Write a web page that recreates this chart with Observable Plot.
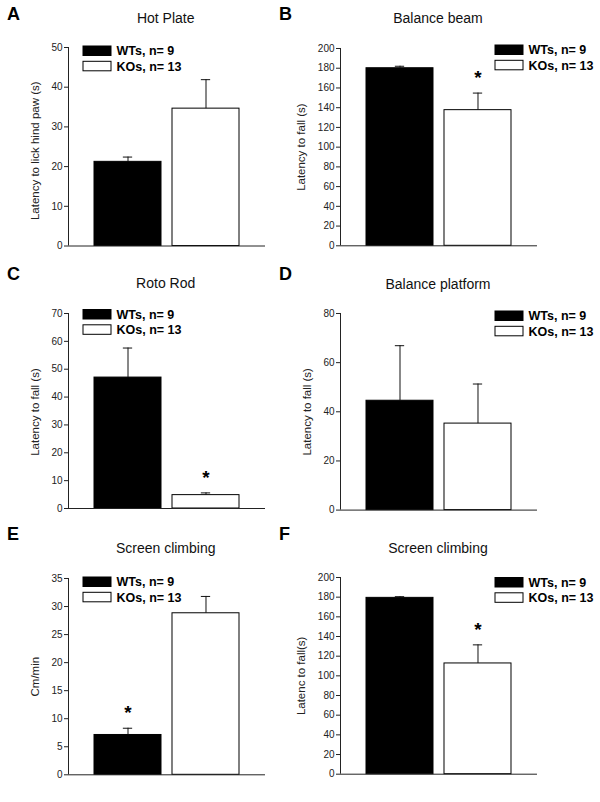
<!DOCTYPE html>
<html><head><meta charset="utf-8">
<script src="https://cdn.jsdelivr.net/npm/d3@7"></script>
<script src="https://cdn.jsdelivr.net/npm/@observablehq/plot@0.6"></script>
<style>
html,body{margin:0;padding:0;background:#fff;}
#root{position:relative;width:600px;height:802px;overflow:hidden;font-family:"Liberation Sans",Arial,Helvetica,sans-serif;}
#root svg{position:absolute;}
</style></head><body><div id="root"></div>
<script>
// ---- data ----
const groups = ["WTs", "KOs"];
const legendLabels = ["WTs, n= 9", "KOs, n= 13"];
const panelLetters = ["A", "B", "C", "D", "E", "F"];
const panelTitles = ["Hot Plate", "Balance beam", "Roto Rod", "Balance platform", "Screen climbing", "Screen climbing"];
const yLabels = ["Latency to lick hind paw (s)", "Latency to fall (s)", "Latency to fall (s)", "Latency to fall (s)", "Cm/min", "Latenc to fall(s)"];
const wtMeans = [21.2, 180.0, 47.0, 44.5, 7.1, 179.3];
const wtSems  = [1.2, 2.0, 10.6, 22.4, 1.2, 1.2];
const koMeans = [34.6, 137.5, 4.8, 35.2, 28.8, 112.6];
const koSems  = [7.3, 17.3, 0.8, 16.1, 3.0, 18.9];
const yMax  = [50, 200, 70, 80, 35, 200];
const yStep = [10, 20, 10, 20, 5, 20];
const significant = [null, "KOs", "KOs", null, "WTs", "KOs"];

// ---- layout (page pixels) ----
const layout = [
  {axisX: 67.7, top: 46.9, bottom: 245.4, letterX: 7, letterY: 19.5, titleY: 23.3, legX: 82.5, legTop: 45.5, labelShift: 4},
  {axisX: 340,  top: 47.7, bottom: 245.0, letterX: 279, letterY: 19.5, titleY: 23.3, legX: 494.5, legTop: 44.5, labelShift: 0},
  {axisX: 67.7, top: 313.3, bottom: 508.3, letterX: 7, letterY: 280, titleY: 288.3, legX: 82.5, legTop: 309, labelShift: 1},
  {axisX: 340,  top: 312.7, bottom: 509.3, letterX: 279, letterY: 280, titleY: 288.5, legX: 494.5, legTop: 310.5, labelShift: 0},
  {axisX: 67.7, top: 577.7, bottom: 774.0, letterX: 7, letterY: 540, titleY: 553, legX: 82.5, legTop: 576.5, labelShift: 0},
  {axisX: 340,  top: 577.3, bottom: 774.0, letterX: 279, letterY: 540, titleY: 553, legX: 494.5, legTop: 577, labelShift: 0}
];
const FONT = "'Liberation Sans', Arial, Helvetica, sans-serif";
const ML = 68, MT = 30, MB = 10, MR = 2, PW = 197;
const PI = 0.141, PO = 0.32;
const step = PW / (groups.length - PI + 2 * PO);
const bw = step * (1 - PI);
const capW = 10;

const root = document.getElementById("root");

panelTitles.forEach((title, i) => {
  const L = layout[i];
  const ph = L.bottom - L.top;
  const data = groups.map((g, j) => ({
    group: g,
    mean: j === 0 ? wtMeans[i] : koMeans[i],
    sem: j === 0 ? wtSems[i] : koSems[i]
  }));
  const sig = data.filter(d => d.group === significant[i]);
  const ticks = d3.range(0, yMax[i] + yStep[i] / 2, yStep[i]);
  const labelOffset = yMax[i] >= 100 ? 39 : 33.5;
  const chart = Plot.plot({
    width: ML + PW + MR,
    height: MT + ph + MB,
    marginLeft: ML, marginRight: MR, marginTop: MT, marginBottom: MB,
    style: {fontFamily: FONT, background: "transparent", overflow: "visible", color: "#222"},
    x: {domain: groups, paddingInner: PI, paddingOuter: PO, axis: null},
    y: {domain: [0, yMax[i]]},
    color: {domain: groups, range: ["#000000", "#ffffff"]},
    marks: [
      Plot.barY(data, {x: "group", y: "mean", fill: "group", stroke: "#000", strokeWidth: 1}),
      Plot.ruleX(data, {x: "group", y1: "mean", y2: d => d.mean + d.sem, stroke: "#111", strokeWidth: 1}),
      Plot.tickY(data, {x: "group", y: d => d.mean + d.sem, insetLeft: (bw - capW) / 2, insetRight: (bw - capW) / 2, stroke: "#111", strokeWidth: 1}),
      Plot.text(sig, {x: "group", y: d => d.mean + d.sem, text: () => "*", fontSize: 19, fontWeight: "bold", fill: "#000", lineAnchor: "middle", dy: -15}),
      Plot.ruleY([0], {stroke: "#222", strokeWidth: 1}),
      Plot.axisY({ticks, tickSize: 4, tickPadding: 2, fontSize: 10, label: null, stroke: "#222", fill: "#222"}),
      Plot.text([yLabels[i]], {frameAnchor: "left", rotate: -90, dx: -labelOffset, dy: L.labelShift, fontSize: 11.5, textAnchor: "middle", lineAnchor: "middle", fill: "#222"})
    ]
  });
  // vertical axis line drawn from the library's scales
  const xs = chart.scale("x"), ys = chart.scale("y");
  const x0 = xs.range[0];
  d3.select(chart).append("line")
    .attr("x1", x0 + 0.5).attr("x2", x0 + 0.5)
    .attr("y1", ys.range[0]).attr("y2", ys.range[1])
    .attr("stroke", "#222").attr("stroke-width", 1);
  chart.style.left = (L.axisX - ML) + "px";
  chart.style.top = (L.top - MT) + "px";
  root.appendChild(chart);
});

// ---- overlay: panel letters, titles, legends ----
const ov = d3.select(root).append("svg")
  .attr("width", 600).attr("height", 802)
  .style("left", "0px").style("top", "0px")
  .style("font-family", FONT);
layout.forEach((L, i) => {
  ov.append("text").attr("x", L.letterX).attr("y", L.letterY)
    .attr("font-size", 18).attr("font-weight", "bold").attr("fill", "#000")
    .text(panelLetters[i]);
  const cx = L.axisX + PW / 2 - 0.5;
  ov.append("text").attr("x", cx).attr("y", L.titleY)
    .attr("text-anchor", "middle").attr("font-size", 14).attr("fill", "#111")
    .text(panelTitles[i]);
  groups.forEach((g, j) => {
    const top = L.legTop + j * 15.3;
    ov.append("rect").attr("x", L.legX + 0.5).attr("y", top + 0.5)
      .attr("width", 28).attr("height", 9.5)
      .attr("fill", j === 0 ? "#000" : "#fff").attr("stroke", "#000").attr("stroke-width", 1);
    ov.append("text").attr("x", L.legX + 34).attr("y", top + 9.8)
      .attr("font-size", 12.5).attr("font-weight", "bold").attr("fill", "#000")
      .text(legendLabels[j]);
  });
});
</script></body></html>
